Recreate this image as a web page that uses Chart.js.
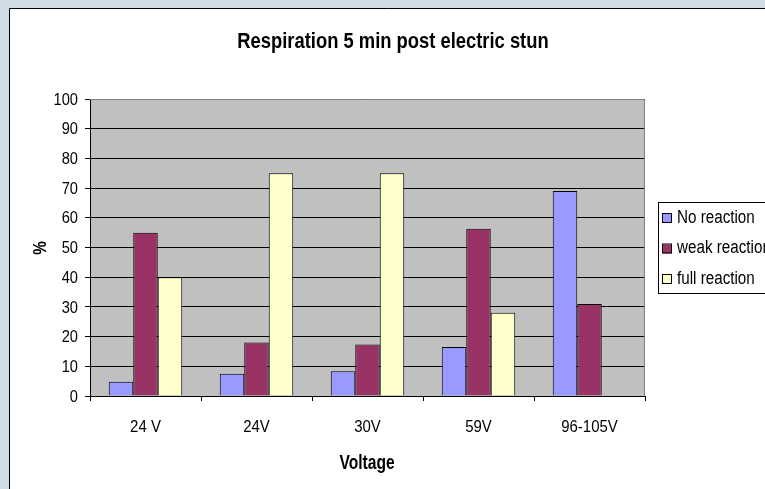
<!DOCTYPE html>
<html>
<head>
<meta charset="utf-8">
<script src="https://cdn.jsdelivr.net/npm/chart.js@4"></script>
<style>
  html, body { margin: 0; padding: 0; background: #d0dce4; overflow: hidden; }
  #wrap { width: 765px; height: 489px; position: relative; }
</style>
</head>
<body>
<div id="wrap"><canvas id="stunChart" width="765" height="489"></canvas></div>
<script>
// === Data ===
const voltages = ["24 V", "24V", "30V", "59V", "96-105V"];
const noReaction = [4.8, 7.5, 8.3, 16.5, 69];
const weakReaction = [55, 18, 17.3, 56.3, 31];
const fullReaction = [40, 75, 75, 28, null];
const seriesNames = ["No reaction", "weak reaction", "full reaction"];
const seriesColors = ["#9999ff", "#993366", "#ffffcc"];

const FONT = "'Liberation Sans', Arial, sans-serif";

// Excel's narrow-looking text: squeeze the glyphs horizontally
function narrowText(ctx, text, x, y, font, sx, align) {
  ctx.save();
  ctx.font = font;
  ctx.textAlign = align || "center";
  ctx.textBaseline = "middle";
  ctx.translate(x, y);
  ctx.scale(sx, 1);
  ctx.fillText(text, 0, 0);
  ctx.restore();
}

// === Frame, plot background, titles, tick labels and legend ===
const excelLook = {
  id: "excelLook",
  beforeDraw(chart) {
    const ctx = chart.ctx;
    const a = chart.chartArea;
    ctx.save();
    ctx.fillStyle = "#d0dce4";
    ctx.fillRect(0, 0, chart.width, chart.height);
    ctx.fillStyle = "#ffffff";
    ctx.fillRect(9, 8, chart.width, chart.height);
    ctx.strokeStyle = "#000";
    ctx.lineWidth = 1;
    ctx.beginPath();
    ctx.moveTo(9.5, chart.height);
    ctx.lineTo(9.5, 8.5);
    ctx.lineTo(chart.width, 8.5);
    ctx.stroke();
    // plot area
    ctx.fillStyle = "#c0c0c0";
    ctx.fillRect(a.left, a.top, a.right - a.left, a.bottom - a.top);
    ctx.restore();
  },
  afterDraw(chart) {
    const ctx = chart.ctx;
    const a = chart.chartArea;
    const xs = chart.scales.x;
    const ys = chart.scales.y;
    ctx.save();
    // grey plot border (top / right)
    ctx.strokeStyle = "#808080";
    ctx.lineWidth = 1;
    ctx.beginPath();
    ctx.moveTo(a.left, a.top + 0.5);
    ctx.lineTo(a.right - 0.5, a.top + 0.5);
    ctx.lineTo(a.right - 0.5, a.bottom);
    ctx.stroke();

    ctx.fillStyle = "#000";
    narrowText(ctx, "Respiration 5 min post electric stun", 393, 42, "bold 22px " + FONT, 0.835);
    narrowText(ctx, "Voltage", 367, 463, "bold 20px " + FONT, 0.78);
    ctx.save();
    ctx.translate(41, 248);
    ctx.rotate(-Math.PI / 2);
    narrowText(ctx, "%", 0, 0, "bold 18px " + FONT, 0.85);
    ctx.restore();

    // tick labels
    ys.ticks.forEach(t => {
      narrowText(ctx, String(t.value), 78, ys.getPixelForValue(t.value) + 1, "17px " + FONT, 0.86, "right");
    });
    voltages.forEach((v, i) => {
      narrowText(ctx, v, xs.getPixelForValue(i), 427, "17px " + FONT, 0.88);
    });

    // legend
    ctx.fillStyle = "#fff";
    ctx.fillRect(658, 202, 200, 92);
    ctx.strokeStyle = "#000";
    ctx.strokeRect(658.5, 202.5, 200, 91);
    const rows = [218, 248.5, 279];
    seriesNames.forEach((name, i) => {
      ctx.fillStyle = seriesColors[i];
      ctx.fillRect(663, rows[i] - 4, 9, 9);
      ctx.strokeStyle = "#000";
      ctx.strokeRect(662.5, rows[i] - 4.5, 9, 9);
      ctx.fillStyle = "#000";
      narrowText(ctx, name, 677, rows[i], "18px " + FONT, 0.845, "left");
    });
    ctx.restore();
  }
};

const ctx = document.getElementById("stunChart").getContext("2d");
new Chart(ctx, {
  type: "bar",
  data: {
    labels: voltages,
    datasets: [
      { label: seriesNames[0], data: noReaction, backgroundColor: seriesColors[0] },
      { label: seriesNames[1], data: weakReaction, backgroundColor: seriesColors[1] },
      { label: seriesNames[2], data: fullReaction, backgroundColor: seriesColors[2] }
    ]
  },
  options: {
    responsive: false,
    animation: false,
    layout: { padding: { left: 0, top: 99, right: 120, bottom: 0 } },
    datasets: {
      bar: {
        borderColor: "#000",
        borderWidth: 1,
        categoryPercentage: 0.662,
        barPercentage: 1
      }
    },
    plugins: {
      legend: { display: false },
      tooltip: { enabled: false }
    },
    scales: {
      x: {
        afterFit: (scale) => { scale.height = 93; },
        grid: { offset: true, drawOnChartArea: false, tickLength: 5, tickColor: "#000" },
        border: { color: "#000" },
        ticks: { display: false }
      },
      y: {
        min: 0,
        max: 100,
        afterFit: (scale) => { scale.width = 90; },
        grid: { color: "#000", tickLength: 5, tickColor: "#000" },
        border: { color: "#000" },
        ticks: { stepSize: 10, display: false }
      }
    }
  },
  plugins: [excelLook]
});
</script>
</body>
</html>
